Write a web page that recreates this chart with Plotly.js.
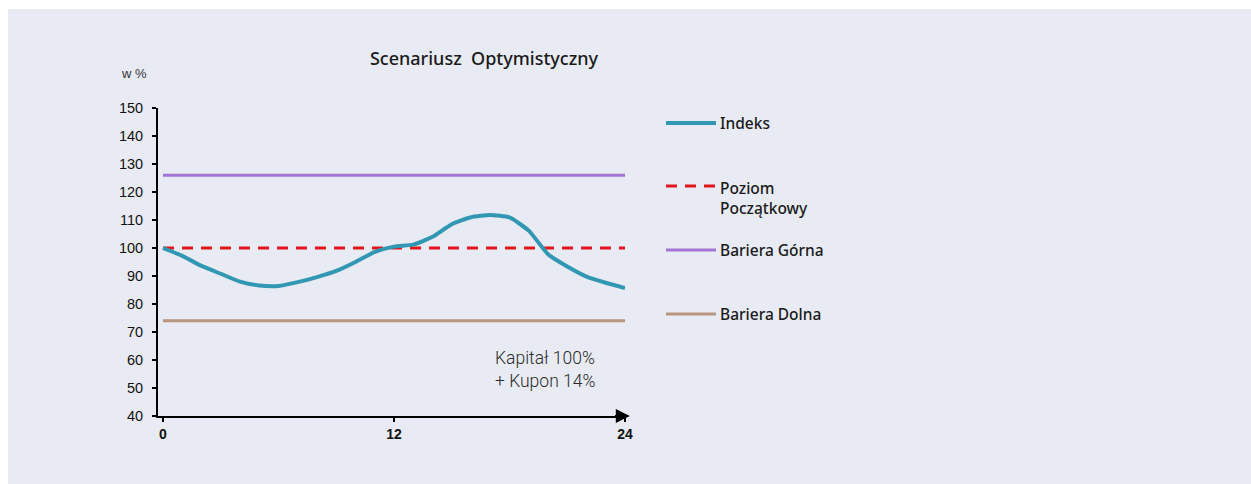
<!DOCTYPE html>
<html>
<head>
<meta charset="utf-8">
<script src="https://cdn.plot.ly/plotly-3.0.1.min.js"></script>
<style>
  html, body { margin: 0; padding: 0; background: #ffffff; }
  #chart { position: absolute; left: 8px; top: 9px; width: 1243px; height: 475px; }
</style>
</head>
<body>
<div id="chart"></div>
<script>
// ---- data ----
const months = [0,1,2,3,4,5,6,7,8,9,10,11,12,13,14,15,16,17,18,19,20,21,22,23,24];
const indeks = [100,97.2,93.6,90.8,88,86.6,86.4,87.8,89.6,91.8,95,98.6,100.5,101.2,104,108.5,111,111.8,110.9,106.2,97.8,93.4,89.8,87.6,85.7];
const spanMonths = [0, 24];
const poziomPoczatkowy = [100, 100];
const barieraGorna = [126, 126];
const barieraDolna = [74, 74];

const seriesNames = ['Indeks', 'Poziom<br>Początkowy', 'Bariera Górna', 'Bariera Dolna'];
const seriesColors = ['#3197b2', '#e3161e', '#a274d4', '#b8957f'];
const seriesDash = ['solid', 'dash', 'solid', 'solid'];
const seriesWidth = [4, 3, 3, 3];

const xTicks = [0, 12, 24];
const yTicks = [40,50,60,70,80,90,100,110,120,130,140,150];

const titleText = 'Scenariusz\u00a0 Optymistyczny';
const unitText = 'w %';
const noteText = 'Kapitał 100%<br>+ Kupon 14%';

// ---- traces ----
const ys = [indeks, poziomPoczatkowy, barieraGorna, barieraDolna];
const xs = [months, spanMonths, spanMonths, spanMonths];
const order = [1, 2, 3, 0]; // draw Indeks on top
const traces = order.map(i => ({
  x: xs[i], y: ys[i], type: 'scatter', mode: 'lines',
  name: seriesNames[i], showlegend: false, hoverinfo: 'skip',
  line: {
    color: seriesColors[i], width: seriesWidth[i],
    dash: i === 1 ? '11px,8px' : seriesDash[i],
    shape: i === 0 ? 'spline' : 'linear', smoothing: 0.5
  }
}));

// ---- custom legend ----
// plot area: x px 158..625 (within page), y px 108..416
const PW = 467, PH = 308;
const px = v => (v - 158) / PW;
const py = v => (416 - v) / PH;
const legendPy = [123, 186, 250, 314];
const shapes = [];
const annotations = [];
seriesNames.forEach((nm, i) => {
  const yy = py(legendPy[i]);
  shapes.push({
    type: 'line', xref: 'paper', yref: 'paper',
    x0: px(666), x1: px(716), y0: yy, y1: yy,
    line: { color: seriesColors[i], width: seriesWidth[i], dash: i === 1 ? '11px,8px' : 'solid' }
  });
  annotations.push({
    xref: 'paper', yref: 'paper', x: px(718), y: i === 1 ? py(legendPy[i] - 11) : yy,
    xanchor: 'left', yanchor: i === 1 ? 'top' : 'middle', align: 'left',
    text: nm, showarrow: false,
    font: { family: 'Noto Sans, sans-serif', size: 15.5, color: '#1a1a1a', weight: 500 }
  });
});

// axis arrow
annotations.push({
  xref: 'x', yref: 'y', axref: 'x', ayref: 'y',
  x: 24.25, y: 40, ax: 23.4, ay: 40, text: '',
  showarrow: true, arrowhead: 2, arrowsize: 1.4, arrowwidth: 2, arrowcolor: '#000', standoff: 0
});
// unit label
annotations.push({
  xref: 'paper', yref: 'paper', x: px(119), y: py(74),
  xanchor: 'left', yanchor: 'middle', text: unitText, showarrow: false,
  font: { family: 'Liberation Sans, Arial, sans-serif', size: 13, color: '#333' }
});
// note
annotations.push({
  xref: 'paper', yref: 'paper', x: px(493), y: py(346),
  xanchor: 'left', yanchor: 'top', align: 'left', text: noteText, showarrow: false,
  font: { family: 'Roboto, sans-serif', size: 17.5, color: '#2a2a2a', weight: 300 }
});

const layout = {
  width: 1243, height: 475,
  margin: { l: 150, r: 626, t: 99, b: 68 },
  paper_bgcolor: '#e8ebf3', plot_bgcolor: '#e8ebf3',
  title: {
    text: titleText, xref: 'paper', yref: 'paper', x: px(484), y: py(70),
    xanchor: 'center', yanchor: 'middle',
    font: { family: 'Noto Sans, sans-serif', size: 18, color: '#1a1a1a', weight: 500 }
  },
  xaxis: {
    range: [-0.26, 24], showgrid: false, zeroline: false, showline: true,
    linecolor: '#000', linewidth: 2, tickmode: 'array', tickvals: xTicks, ticktext: xTicks.map(String),
    ticks: 'outside', ticklen: 4, tickcolor: '#000', tickwidth: 1.5,
    tickfont: { family: 'Liberation Sans, Arial, sans-serif', size: 14, color: '#111', weight: 'bold' },
    fixedrange: true
  },
  yaxis: {
    range: [40, 150], showgrid: false, zeroline: false, showline: true,
    linecolor: '#000', linewidth: 2, tickmode: 'array', tickvals: yTicks, ticktext: yTicks.map(String),
    ticks: 'outside', ticklen: 4, tickcolor: '#000', tickwidth: 1.5, ticklabelstandoff: 6,
    tickfont: { family: 'Liberation Sans, Arial, sans-serif', size: 14.5, color: '#111' },
    fixedrange: true
  },
  shapes: shapes,
  annotations: annotations,
  showlegend: false
};

Plotly.newPlot('chart', traces, layout, { displayModeBar: false, staticPlot: true });
</script>
</body>
</html>
